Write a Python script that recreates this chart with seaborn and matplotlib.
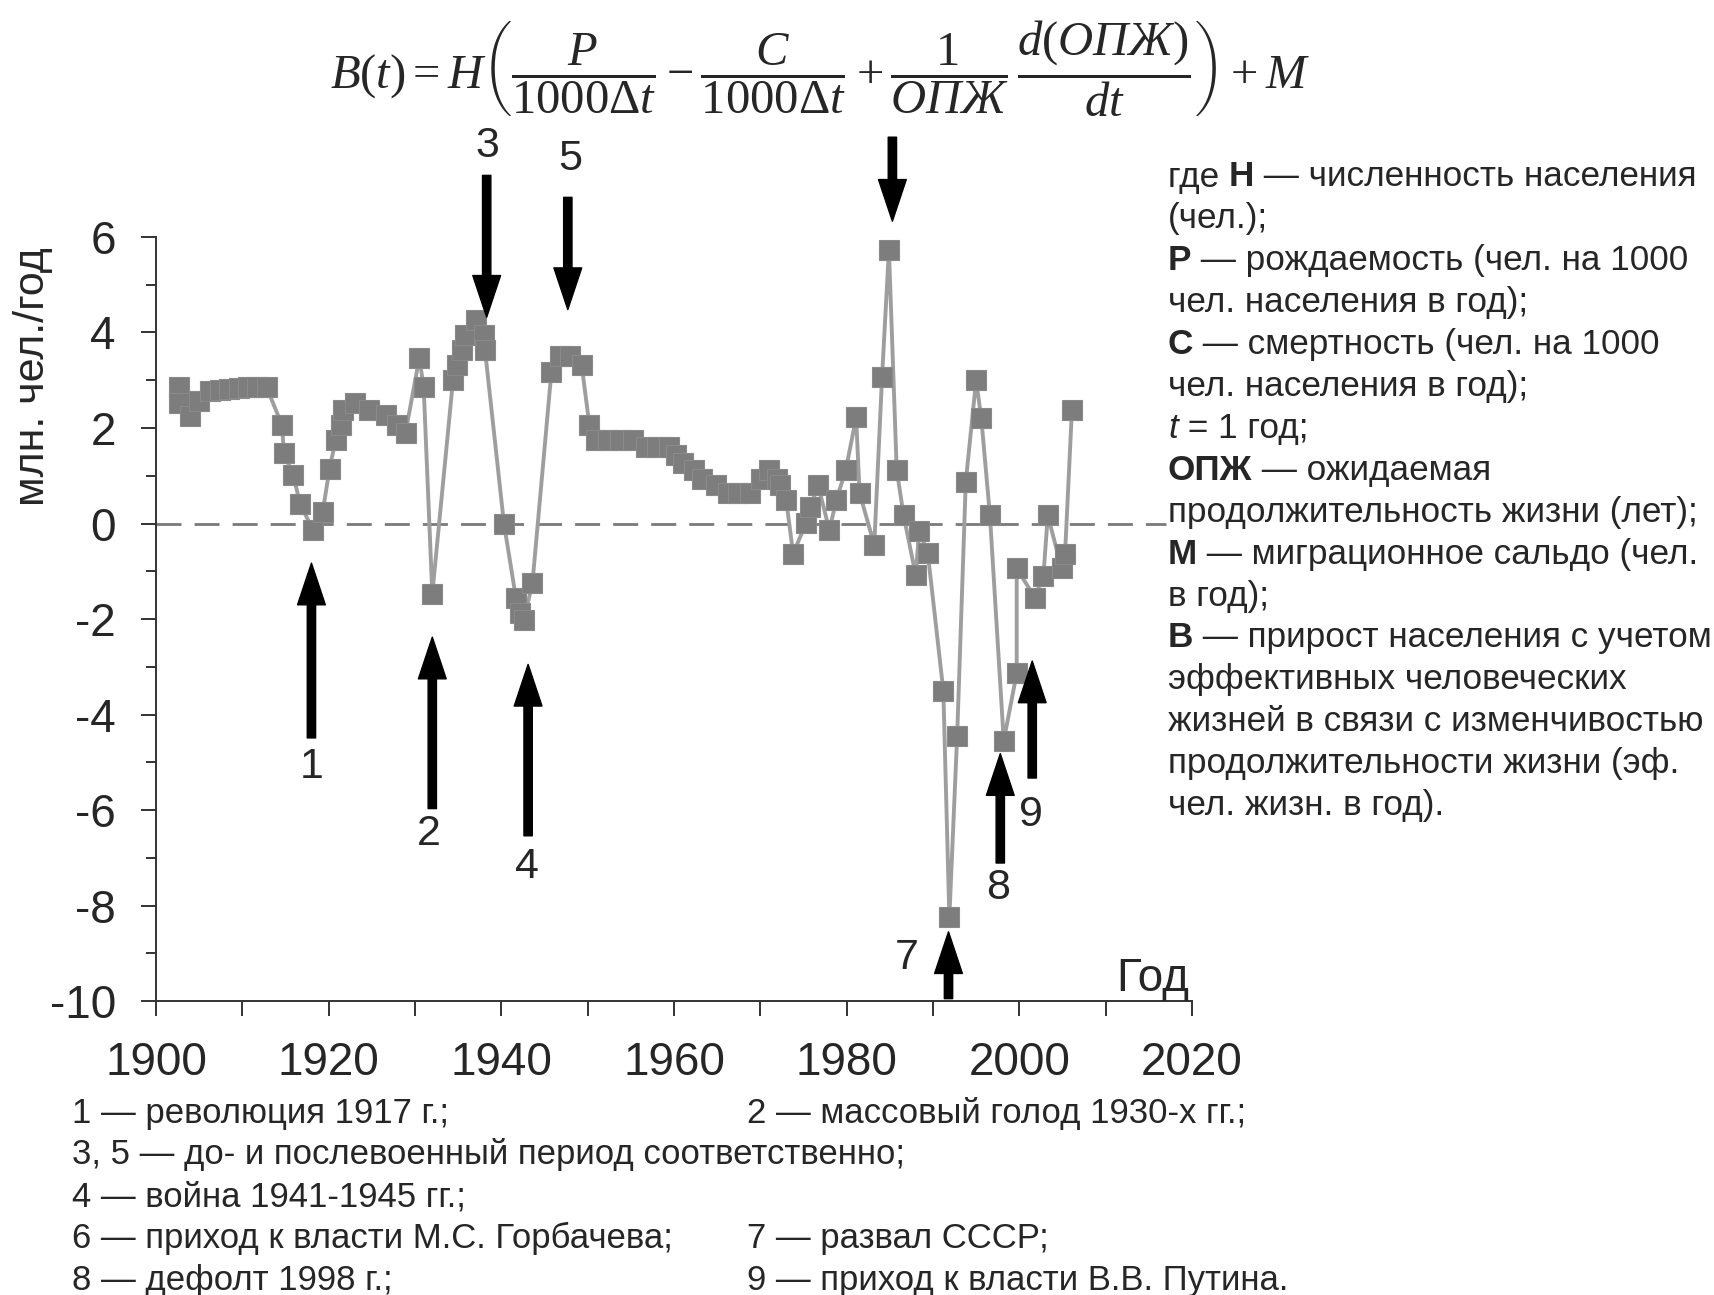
import pandas as pd
import matplotlib
matplotlib.use('Agg')
import matplotlib.pyplot as plt
import seaborn as sns
from matplotlib.offsetbox import TextArea, HPacker, AnnotationBbox

# series (year position, value in mln people / year)
years = [1902.6, 1902.7, 1903.9, 1905.0, 1906.3, 1907.4, 1908.5, 1909.6, 1910.6, 1911.7, 1912.8,
         1914.6, 1914.8, 1915.9, 1916.7, 1918.2, 1919.3, 1920.1, 1920.8, 1921.4, 1921.7, 1923.0,
         1924.7, 1926.6, 1927.9, 1928.9,
         1930.5, 1931.0, 1932.0, 1934.4, 1934.9, 1935.4, 1935.8, 1937.1, 1938.0, 1938.1, 1940.3,
         1941.7, 1942.2, 1942.6, 1943.6,
         1945.8, 1946.8, 1948.0, 1949.3, 1950.2, 1951.0, 1952.4, 1953.8, 1955.3, 1956.7, 1958.0,
         1959.4, 1960.2, 1961.1, 1962.3, 1963.3, 1964.9, 1966.3, 1967.4, 1968.8,
         1970.1, 1971.0, 1971.9, 1972.3, 1973.0, 1973.8, 1975.3, 1975.8, 1976.7, 1978.0, 1978.8,
         1979.9, 1981.1, 1981.5, 1983.2, 1984.1, 1984.9,
         1985.8, 1986.6, 1988.0, 1988.4, 1989.4, 1991.2, 1991.9, 1992.8, 1993.8, 1995.0, 1995.6,
         1996.6, 1998.2, 1999.7, 1999.7, 2001.8, 2002.8, 2003.3, 2004.9, 2005.3, 2006.1]
values = [2.85, 2.53, 2.25, 2.57, 2.78, 2.80, 2.81, 2.83, 2.85, 2.85, 2.85,
          2.06, 1.48, 1.01, 0.40, -0.14, 0.24, 1.15, 1.75, 2.06, 2.38, 2.53,
          2.38, 2.27, 2.06, 1.90,
          3.47, 2.85, -1.47, 3.00, 3.32, 3.64, 3.95, 4.26, 3.95, 3.64, 0.00,
          -1.57, -1.88, -2.03, -1.25,
          3.18, 3.50, 3.50, 3.32, 2.06, 1.75, 1.75, 1.75, 1.75, 1.61, 1.61,
          1.61, 1.43, 1.27, 1.12, 0.94, 0.80, 0.64, 0.64, 0.64,
          0.94, 1.12, 0.94, 0.80, 0.49, -0.63, 0.01, 0.34, 0.80, -0.14, 0.49,
          1.12, 2.22, 0.64, -0.45, 3.06, 5.73,
          1.12, 0.17, -1.08, -0.15, -0.62, -3.50, -8.24, -4.46, 0.87, 3.00, 2.20,
          0.17, -4.55, -3.14, -0.94, -1.55, -1.09, 0.17, -0.94, -0.64, 2.38]

# event arrows: year, tail value, tip value, label, label position
arrow_years = [1918.0, 1932.0, 1938.3, 1943.1, 1947.7, 1985.3, 1991.8, 1997.8, 2001.5]
arrow_tails = [-4.49, -5.97, 7.29, -6.54, 6.83, 8.09, -9.95, -7.11, -5.33]
arrow_tips = [-0.83, -2.38, 4.32, -2.95, 4.48, 6.33, -8.55, -4.82, -2.88]
arrow_labels = ['1', '2', '3', '4', '5', '', '7', '8', '9']
label_years = [1918.0, 1931.6, 1938.4, 1943.0, 1948.0, 1985.3, 1987.0, 1997.6, 2001.3]
label_values = [-5.1, -6.5, 7.9, -7.2, 7.63, 0, -9.1, -7.63, -6.1]

x_ticks = [1900, 1920, 1940, 1960, 1980, 2000, 2020]
y_ticks = [-10, -8, -6, -4, -2, 0, 2, 4, 6]
zero_line_end = 2017

notes_right = [
    [('где ', 'normal', 'normal'), ('Н', 'bold', 'normal'), (' — численность населения', 'normal', 'normal')],
    [('(чел.);', 'normal', 'normal')],
    [('Р', 'bold', 'normal'), (' — рождаемость (чел. на 1000', 'normal', 'normal')],
    [('чел. населения в год);', 'normal', 'normal')],
    [('С', 'bold', 'normal'), (' — смертность (чел. на 1000', 'normal', 'normal')],
    [('чел. населения в год);', 'normal', 'normal')],
    [('t', 'normal', 'italic'), (' = 1 год;', 'normal', 'normal')],
    [('ОПЖ', 'bold', 'normal'), (' — ожидаемая', 'normal', 'normal')],
    [('продолжительность жизни (лет);', 'normal', 'normal')],
    [('М', 'bold', 'normal'), (' — миграционное сальдо (чел.', 'normal', 'normal')],
    [('в год);', 'normal', 'normal')],
    [('В', 'bold', 'normal'), (' — прирост населения с учетом', 'normal', 'normal')],
    [('эффективных человеческих', 'normal', 'normal')],
    [('жизней в связи с изменчивостью', 'normal', 'normal')],
    [('продолжительности жизни (эф.', 'normal', 'normal')],
    [('чел. жизн. в год).', 'normal', 'normal')],
]
notes_left = ['1 — революция 1917 г.;',
              '3, 5 — до- и послевоенный период соответственно;',
              '4 — война 1941-1945 гг.;',
              '6 — приход к власти М.С. Горбачева;',
              '8 — дефолт 1998 г.;']
notes_mid = ['2 — массовый голод 1930-х гг.;', '', '', '7 — развал СССР;', '9 — приход к власти В.В. Путина.']

formula = (r'$B(t) = H\left(\dfrac{P}{1000\Delta t} - \dfrac{C}{1000\Delta t}'
           r' + \dfrac{1}{\mathit{ОПЖ}}\,\dfrac{d(\mathit{ОПЖ})}{dt}\right) + M$')

sns.set_style('ticks')
plt.rcParams['font.family'] = ['Liberation Sans', 'DejaVu Sans']
plt.rcParams['mathtext.fontset'] = 'custom'
plt.rcParams['mathtext.rm'] = 'Liberation Serif'
plt.rcParams['mathtext.it'] = 'Liberation Serif:italic'
plt.rcParams['mathtext.bf'] = 'Liberation Serif:bold'

fig = plt.figure(figsize=(17.15, 12.95), dpi=100)
ax = fig.add_axes([0.091, 0.227, 0.604, 0.590])

df = pd.DataFrame({'year': years, 'value': values})

ax.hlines(0, x_ticks[0], zero_line_end, colors='#7a7a7a', linewidth=2,
          linestyles=(0, (9, 4.7)), zorder=1)
sns.lineplot(data=df, x='year', y='value', ax=ax, estimator=None, sort=False,
             color='#9e9e9e', linewidth=2.8, marker='s', markersize=15,
             markerfacecolor='#7d7d7d', markeredgecolor='#8a8a8a', markeredgewidth=0.8,
             zorder=3)

for yr, tail, tip, lab, ly, lv in zip(arrow_years, arrow_tails, arrow_tips, arrow_labels,
                                      label_years, label_values):
    ax.annotate('', xy=(yr, tip), xytext=(yr, tail), annotation_clip=False,
                arrowprops=dict(width=6, headwidth=20, headlength=30, shrink=0,
                                facecolor='black', edgecolor='black'))
    if lab:
        ax.text(ly, lv, lab, fontsize=31, ha='center', va='center', clip_on=False)

ax.set_xlim(x_ticks[0], x_ticks[-1])
ax.set_ylim(y_ticks[0], y_ticks[-1])
ax.set_xticks(x_ticks)
ax.set_xticks(range(1910, 2020, 20), minor=True)
ax.set_yticks(y_ticks)
ax.set_yticks(range(-9, 6, 2), minor=True)
ax.set_yticklabels([str(v) for v in y_ticks])
ax.tick_params(axis='both', which='major', direction='out', length=11, width=1.4,
               color='#333333', labelsize=33, pad=18)
ax.tick_params(axis='y', which='minor', direction='out', length=7, width=1.4, color='#333333')
ax.tick_params(axis='x', which='minor', direction='out', length=11, width=1.4, color='#333333')
for side in ['left', 'bottom']:
    ax.spines[side].set_color('#333333')
    ax.spines[side].set_linewidth(1.4)
sns.despine(ax=ax)

ax.set_xlabel('')
ax.set_ylabel('млн. чел./год', fontsize=31)
ax.yaxis.label.set_verticalalignment('center')
ax.yaxis.set_label_coords(-0.119, 0.817)
ax.text(2019.7, -9.8, 'Год', fontsize=33, ha='right', va='baseline')

fig.text(0.478, 0.947, formula, ha='center', va='center', fontsize=35)


def rich_line(parts, x, y, size):
    boxes = [TextArea(s, textprops=dict(fontsize=size, fontweight=w, fontstyle=st))
             for s, w, st in parts]
    pack = HPacker(children=boxes, align='baseline', pad=0, sep=0)
    ab = AnnotationBbox(pack, (x, y), xycoords='figure fraction', box_alignment=(0, 0.5),
                        frameon=False, pad=0)
    fig.add_artist(ab)


for i, parts in enumerate(notes_right):
    rich_line(parts, 0.681, 1 - (177 + i * 41.9) / 1295, 25.3)

for i, (left, mid) in enumerate(zip(notes_left, notes_mid)):
    ypos = 1 - (1113 + i * 41.8) / 1295
    fig.text(0.042, ypos, left, fontsize=25, ha='left', va='center')
    if mid:
        fig.text(0.4356, ypos, mid, fontsize=25, ha='left', va='center')

fig.savefig('out.png', dpi=100)
